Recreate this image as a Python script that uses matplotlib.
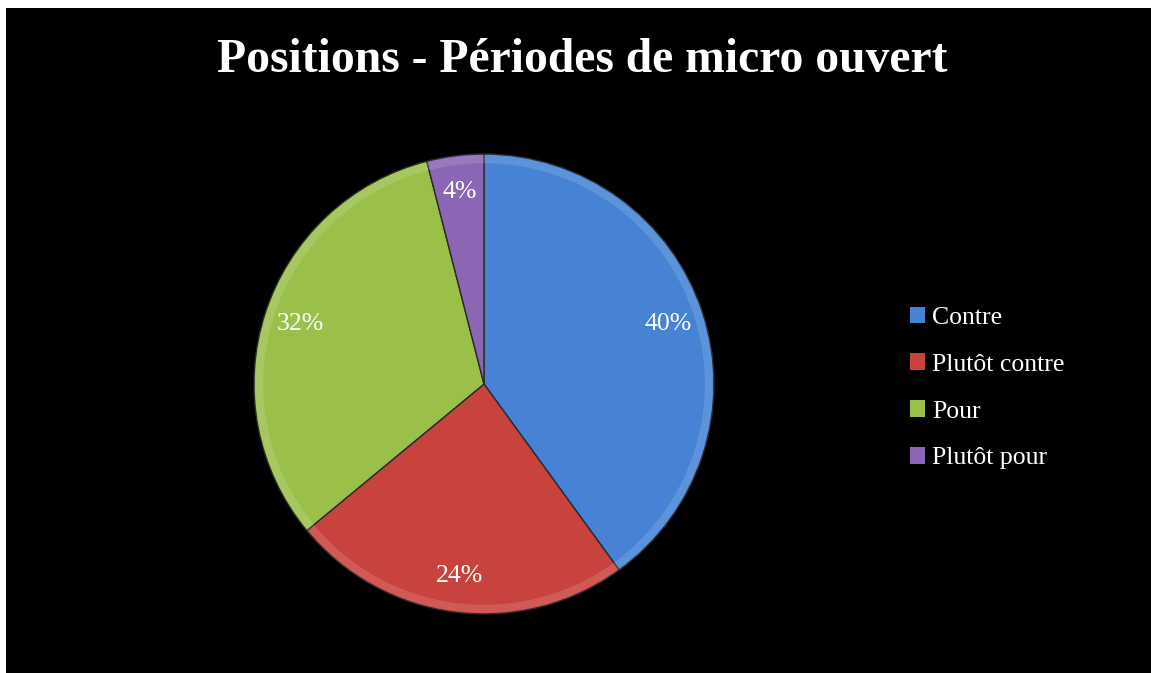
import matplotlib.pyplot as plt
from matplotlib.patches import Patch

labels = ['Contre', 'Plutôt contre', 'Pour', 'Plutôt pour']
values = [40, 24, 32, 4]
colors = ['#4683D4', '#C8423E', '#9BC04A', '#8A66B4']

plt.rcParams['font.family'] = ['Liberation Serif', 'DejaVu Serif']

W, H = 1151, 673
fig = plt.figure(figsize=(W / 100, H / 100), dpi=100)
fig.patch.set_facecolor('white')

# black chart area, white strip on top and left
bg = fig.add_axes([6 / W, -0.01, 1.0, (H - 8) / H + 0.01])
bg.set_facecolor('black')
bg.set_xticks([])
bg.set_yticks([])
for s in bg.spines.values():
    s.set_visible(False)

# pie: center (484, 384), radius 230 px
cx, cy, r = 484, 384, 230
ax = fig.add_axes([(cx - r) / W, (H - cy - r) / H, 2 * r / W, 2 * r / H])
ax.set_facecolor('none')
wedges, texts, autotexts = ax.pie(
    values, colors=colors, startangle=90, counterclock=False,
    autopct='%d%%', pctdistance=0.84,
    wedgeprops=dict(edgecolor='#2a2a2a', linewidth=1),
    textprops=dict(color='white', fontsize=18.5))
# light bevel rim on the outer edge
ax.pie(values, colors=['white'] * len(values), startangle=90, counterclock=False,
       radius=0.995, wedgeprops=dict(width=0.035, alpha=0.13, linewidth=0))
ax.set_xlim(-1, 1)
ax.set_ylim(-1, 1)
ax.set_aspect('equal')
ax.axis('off')

fig.text(582 / W, 1 - 72 / H, 'Positions - Périodes de micro ouvert',
         ha='center', va='baseline', color='white', fontsize=34.3, fontweight='bold')

handles = [Patch(facecolor=c, edgecolor='none') for c in colors]
fig.legend(handles, labels, loc='center left', bbox_to_anchor=(910 / W, 1 - 388 / H),
           frameon=False, labelcolor='white', fontsize=18.5,
           borderpad=0, borderaxespad=0,
           handlelength=0.6, handleheight=0.6, handletextpad=0.27, labelspacing=0.96)

fig.savefig('out.png', dpi=100, facecolor=fig.get_facecolor())
